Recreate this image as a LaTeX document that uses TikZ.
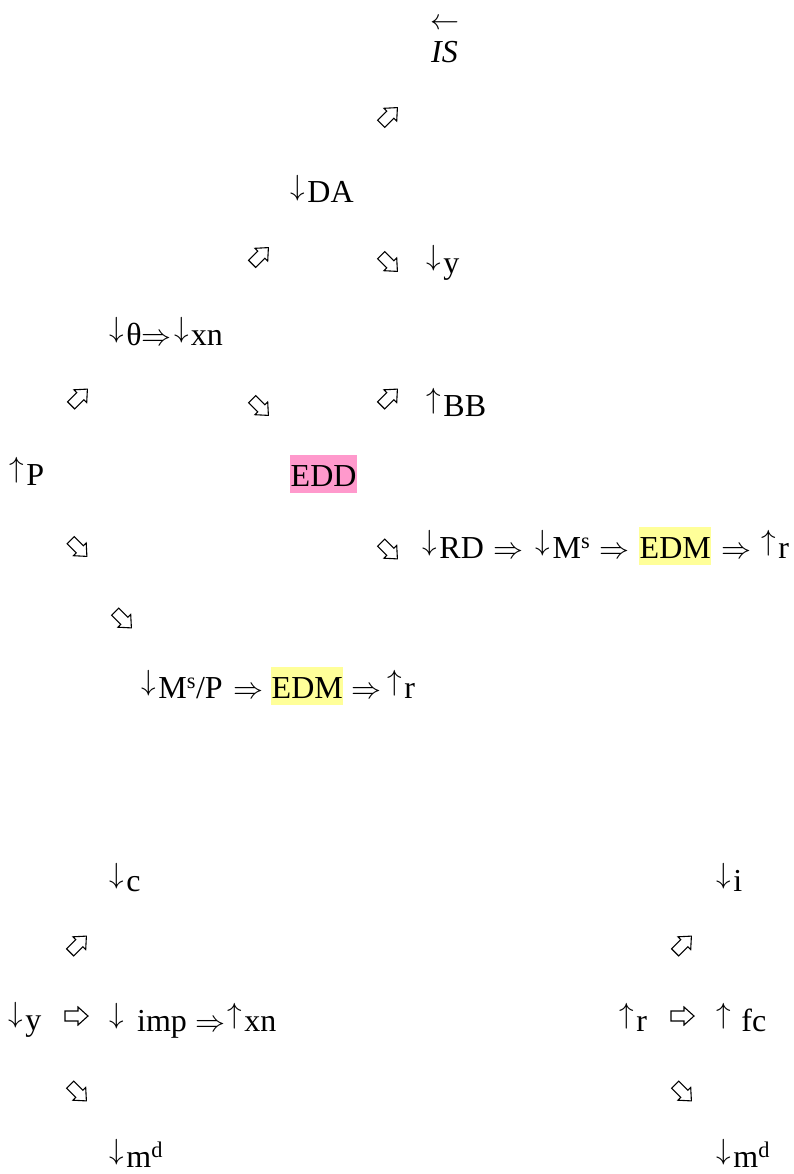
\documentclass[tikz,border=0pt]{standalone}
\usepackage{fontspec}
\setmainfont{Liberation Serif}
\definecolor{hlpink}{RGB}{255,153,204}
\definecolor{hlyellow}{RGB}{255,255,153}
\newcommand{\myDn}{\makebox[0.6em]{\resizebox{!}{0.86em}{\raisebox{0.194em}{$\downarrow$}}}}
\newcommand{\myUp}{\makebox[0.6em]{\resizebox{!}{0.86em}{\raisebox{0.194em}{$\uparrow$}}}}
\newcommand{\myImp}{\resizebox{30pt}{!}{$\Rightarrow$}}
% outline arrow drawn at a named coordinate, rotated by #2
\newcommand{\oarr}[2]{\draw[oarrow, shift={(#1)}, rotate=#2] (-9,-5) -- (4,-5) -- (4,-9) -- (14,0) -- (4,9) -- (4,5) -- (-9,5) -- cycle;}
\tikzset{
  txt/.style={anchor=base west, inner sep=0pt, font=\fontsize{32}{37}\selectfont},
  hl/.style={anchor=base west, inner xsep=0.5pt, inner ysep=0pt, text height=31pt, text depth=7pt, font=\fontsize{32}{37}\selectfont},
  oarrow/.style={draw=black, line width=1.1pt, line join=miter, fill=white}
}
\begin{document}
\begin{tikzpicture}[x=1pt,y=-1pt]
\useasboundingbox (0,0) rectangle (793,1174);
% ---------- top diagram ----------
\node[txt, anchor=base] (la) at (444.5,30) {\resizebox{29pt}{!}{$\leftarrow$}};
\node[txt] (is) at (431,63) {\textit{IS}};
\coordinate (g1) at (387.5,117.5);
\node[txt] (da) at (288,203) {\myDn DA};
\coordinate (g2) at (258.5,257.5);
\coordinate (g3) at (387.5,261.5);
\node[txt] (y1) at (424,273) {\myDn y};
\node[txt] (th) at (107,345) {\myDn θ\myImp\myDn xn};
\coordinate (g4) at (77.5,399);
\coordinate (g5) at (258.5,405.5);
\coordinate (g6) at (387.5,399);
\node[txt] (bb) at (424,416) {\myUp BB};
\node[txt] (p) at (7,485) {\myUp P};
\node[hl, fill=hlpink] (edd) at (290,486) {EDD};
\coordinate (g7) at (77,546.5);
\coordinate (g8) at (387.5,549);
\node[txt] (rd) at (420,558) {\myDn RD};
\node[txt] (i1) at (493.5,558) {\myImp};
\node[txt] (ms1) at (533.3,558) {\myDn M\textsuperscript{s}};
\node[txt] (i2) at (599.2,558) {\myImp};
\node[hl, fill=hlyellow] (edm1) at (639,558) {EDM};
\node[txt] (i3) at (721,558) {\myImp};
\node[txt] (r1) at (759,558) {\myUp r};
\coordinate (g9) at (121.5,618);
\node[txt] (msp) at (139,698) {\myDn M\textsuperscript{s}/P};
\node[txt] (i4) at (233,698) {\myImp};
\node[hl, fill=hlyellow] (edm2) at (271,698) {EDM};
\node[txt] (i5) at (351,698) {\myImp};
\node[txt] (r2) at (385,698) {\myUp r};
% ---------- bottom left ----------
\node[txt] (c) at (107,891) {\myDn c};
\coordinate (g10) at (76.5,946);
\node[txt] (y2) at (6,1030) {\myDn y};
\coordinate (g11) at (74,1016);
\node[txt] (dimp) at (107,1031) {\myDn};
\node[txt] (imp) at (137,1031) {imp};
\node[txt] (i6) at (195,1031) {\myImp};
\node[txt] (xn) at (225,1031) {\myUp xn};
\coordinate (g12) at (76.5,1091);
\node[txt, text depth=0pt] (md1) at (107,1167) {\myDn m\textsuperscript{d}};
% ---------- bottom right ----------
\node[txt] (i) at (714,891) {\myDn i};
\coordinate (g13) at (681.5,946);
\node[txt] (r3) at (617,1031) {\myUp r};
\coordinate (g14) at (680,1016);
\node[txt] (fc) at (714,1031) {\myUp{} fc};
\coordinate (g15) at (681.5,1091);
\node[txt, text depth=0pt] (md2) at (714,1167) {\myDn m\textsuperscript{d}};
% ---------- outline arrows ----------
\oarr{g1}{45}
\oarr{g2}{45}
\oarr{g3}{-45}
\oarr{g4}{45}
\oarr{g5}{-45}
\oarr{g6}{45}
\oarr{g7}{-45}
\oarr{g8}{-45}
\oarr{g9}{-45}
\oarr{g10}{45}
\oarr{g11}{0}
\oarr{g12}{-45}
\oarr{g13}{45}
\oarr{g14}{0}
\oarr{g15}{-45}
\end{tikzpicture}
\end{document}
